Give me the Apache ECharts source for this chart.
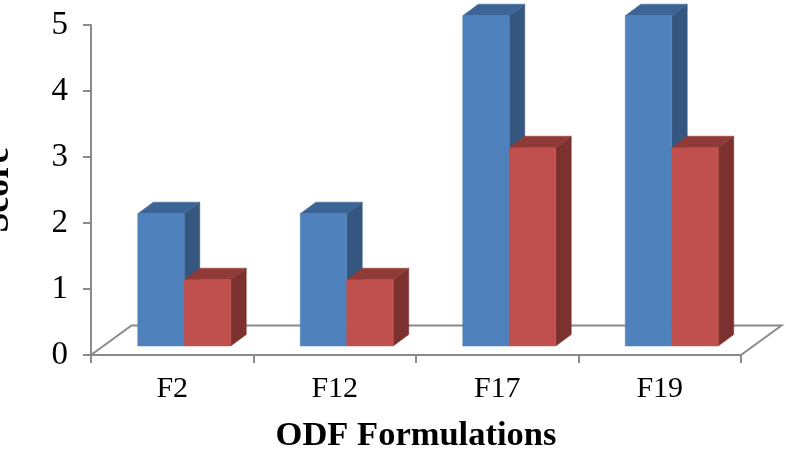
<!DOCTYPE html>
<html><head><meta charset="utf-8">
<style>html,body{margin:0;padding:0;background:#fff}#c{width:786px;height:455px}</style>
<script src="https://cdn.jsdelivr.net/npm/echarts@6/dist/echarts.min.js"></script>
</head><body><div id="c"></div>
<script>
const categories = ['F2', 'F12', 'F17', 'F19'];
const seriesA = [2, 2, 5, 5];
const seriesB = [1, 1, 3, 3];
const yTicks = [0, 1, 2, 3, 4, 5];

const DX = 15.5, DY = -11.5, LIFT = -9, BAR_W = 46.5, SHIFT = 12;

function box(side, colors) {
  return function (params, api) {
    const i = api.value(0), v = api.value(1);
    const base = api.coord([i, 0]), top = api.coord([i, v]);
    const x0 = base[0] + SHIFT + (side < 0 ? -BAR_W : 0), x1 = x0 + BAR_W;
    const yb = base[1] + LIFT, yt = top[1] + LIFT - 0.3;
    const poly = (pts, fill) => ({ type: 'polygon', shape: { points: pts },
      style: { fill, stroke: fill, lineWidth: 0.5 } });
    return { type: 'group', children: [
      poly([[x1, yb], [x1 + DX, yb + DY], [x1 + DX, yt + DY], [x1, yt]], colors[2]),
      poly([[x0, yt], [x0 + DX, yt + DY], [x1 + DX, yt + DY], [x1, yt]], colors[1]),
      poly([[x0, yb], [x1, yb], [x1, yt], [x0, yt]], colors[0])
    ]};
  };
}

function floor(params, api) {
  const cs = params.coordSys;
  const l = cs.x, r = cs.x + cs.width, b = cs.y + cs.height, bx = 40.5, by = -29.5;
  return { type: 'polyline', shape: { points: [[l, b], [l + bx, b + by], [r + bx, b + by], [r, b]] },
    style: { fill: 'none', stroke: '#8a8a8a', lineWidth: 2 } };
}

const chart = echarts.init(document.getElementById('c'), null, { renderer: 'canvas' });
chart.setOption({
  animation: false,
  backgroundColor: '#fff',
  grid: { left: 91, right: 45, top: 25, bottom: 100, outerBoundsMode: 'none', containLabel: false },
  xAxis: {
    type: 'category', data: categories, name: 'ODF Formulations',
    nameLocation: 'middle', nameGap: 64,
    nameTextStyle: { fontFamily: 'Liberation Serif', fontSize: 34.5, fontWeight: 'bold', color: '#000' },
    axisLine: { lineStyle: { color: '#8a8a8a', width: 2 } },
    axisTick: { show: true, length: 8, alignWithLabel: false, lineStyle: { color: '#8a8a8a', width: 2 } },
    axisLabel: { fontFamily: 'Liberation Serif', fontSize: 30, color: '#000', margin: 19 }
  },
  yAxis: {
    type: 'value', min: 0, max: 5, interval: 1, name: 'Score',
    nameLocation: 'middle', nameGap: 74, nameRotate: 90,
    nameTextStyle: { fontFamily: 'Liberation Serif', fontSize: 36, fontWeight: 'bold', color: '#000' },
    splitLine: { show: false },
    axisLine: { show: true, lineStyle: { color: '#8a8a8a', width: 2 } },
    axisTick: { show: true, length: 8, lineStyle: { color: '#8a8a8a', width: 2 } },
    axisLabel: { fontFamily: 'Liberation Serif', fontSize: 33, color: '#000', margin: 23,
      formatter: v => String(yTicks[v]) }
  },
  series: [
    { type: 'custom', renderItem: floor, data: [[0, 0]], silent: true, z: 1 },
    { type: 'custom', name: 'A', z: 2, silent: true,
      renderItem: box(-1, ['#4f81bd', '#3d6496', '#34567f']),
      data: seriesA.map((v, i) => [i, v]), encode: { x: 0, y: 1 } },
    { type: 'custom', name: 'B', z: 3, silent: true,
      renderItem: box(1, ['#c0504d', '#8f3a37', '#7c312f']),
      data: seriesB.map((v, i) => [i, v]), encode: { x: 0, y: 1 } }
  ]
});
</script></body></html>
